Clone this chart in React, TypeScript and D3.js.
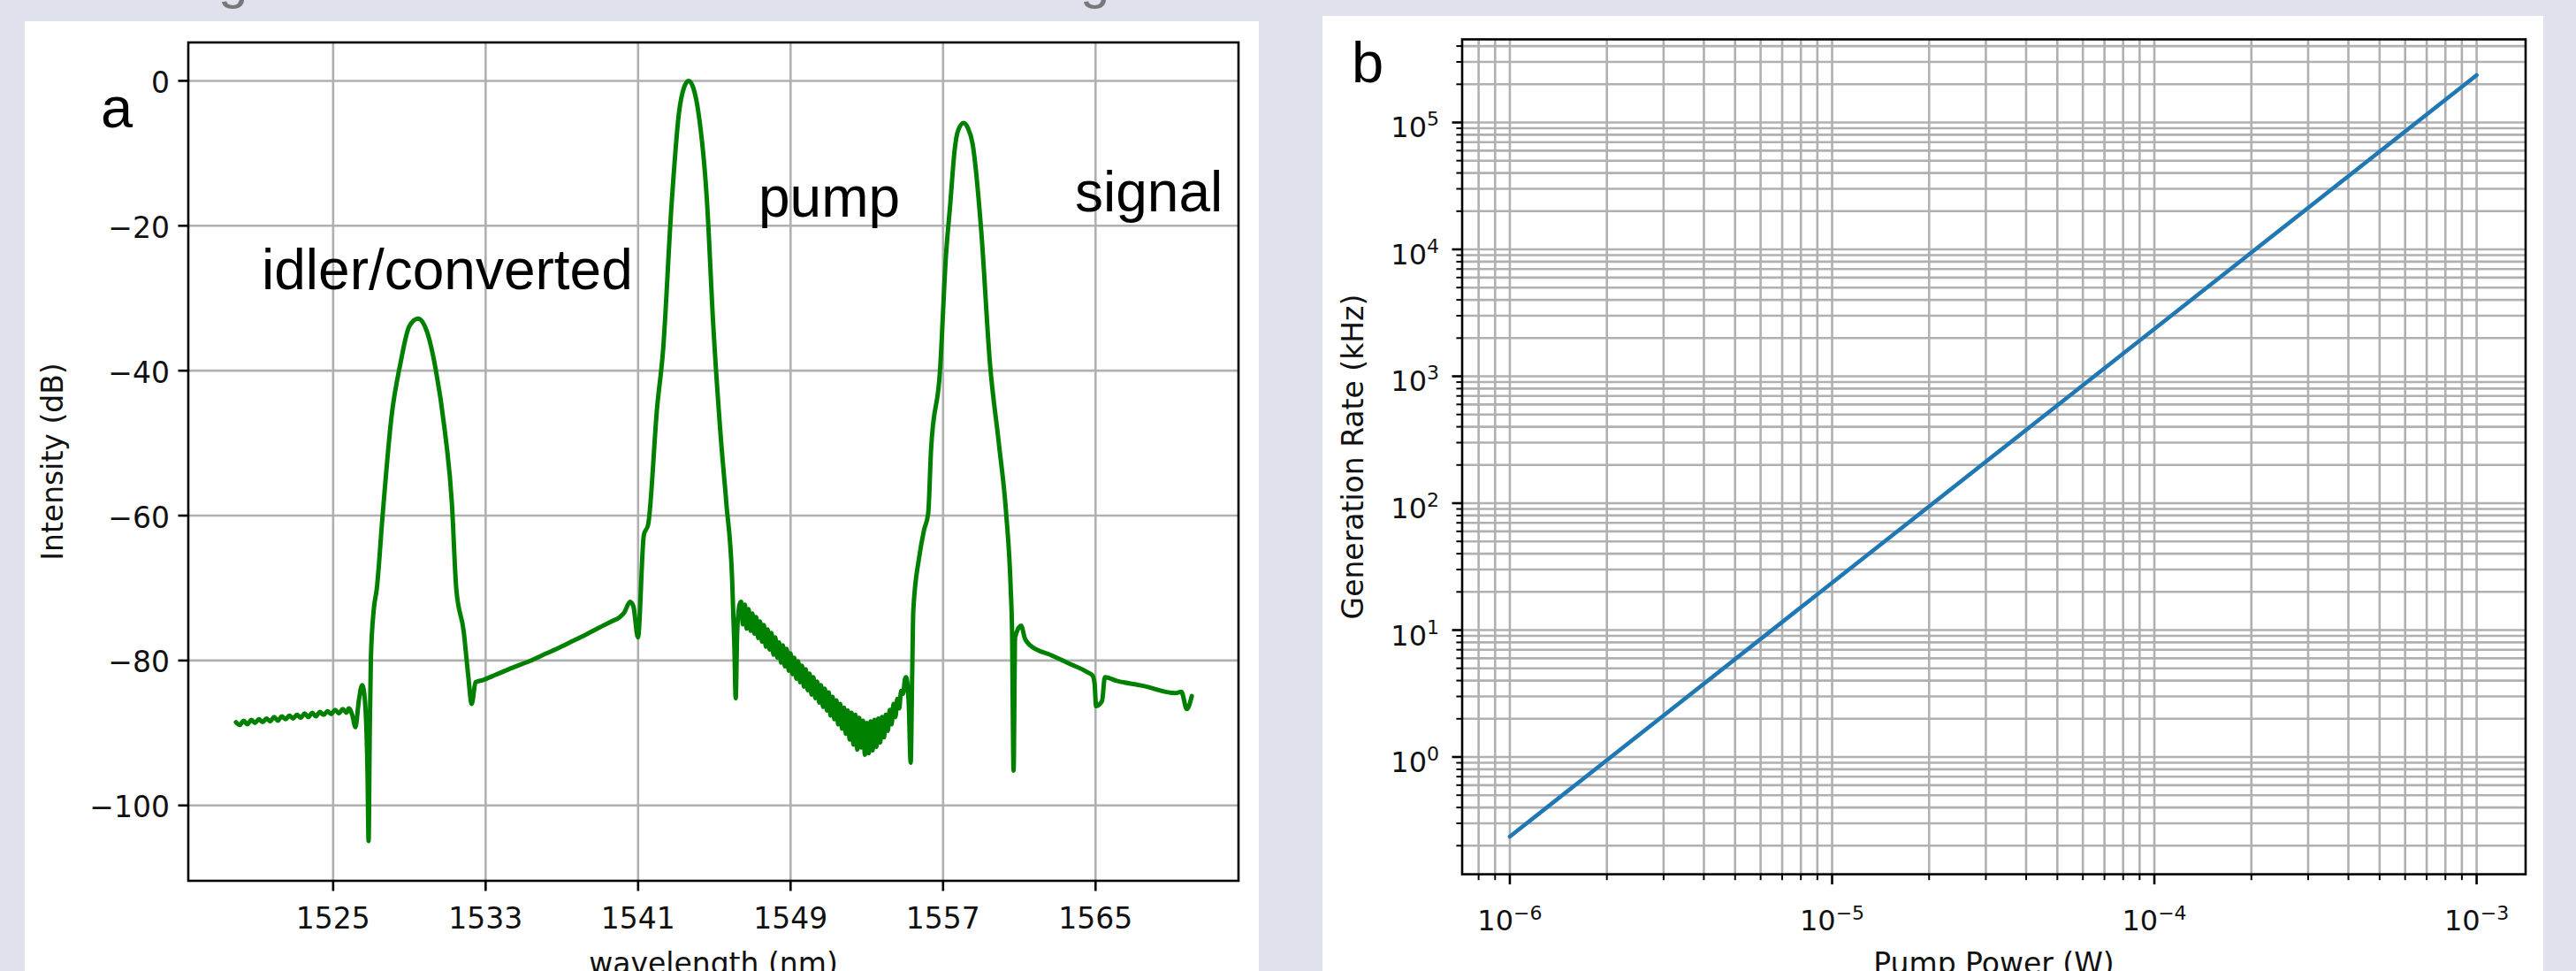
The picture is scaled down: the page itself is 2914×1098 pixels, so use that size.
import React from "react";
import { scaleLinear, scaleLog, line, curveMonotoneX } from "d3";

const bg = "#dfe2ec";
const green = "#008000";
const blue = "#1f77b4";
const gridColor = "#b0b0b0";
const tickFont = "DejaVu Sans";
const labelFont = "Liberation Sans, Arial, sans-serif";

// panel a: optical spectrum (noisy parts included)
const wavelength = [
  1519.9, 1520.1, 1520.3, 1520.5, 1520.7, 1520.9, 1521.1, 1521.3, 1521.5, 1521.7, 1521.9, 1522.1, 1522.3,
  1522.5, 1522.7, 1522.9, 1523.1, 1523.3, 1523.5, 1523.7, 1523.9, 1524.1, 1524.3, 1524.5, 1524.7, 1524.9,
  1525.1, 1525.3, 1525.5, 1525.7, 1525.82,
  1526.0, 1526.17, 1526.35, 1526.52, 1526.65, 1526.8, 1526.86, 1526.92, 1526.98, 1527.13, 1527.29, 1527.6,
  1528.06, 1528.53, 1528.99, 1529.45, 1529.92, 1530.38, 1530.84, 1531.23, 1531.46, 1531.85, 1532.08, 1532.27,
  1532.47, 1532.85, 1533.5, 1534.4, 1535.2, 1535.95, 1536.8, 1537.5, 1538.27, 1539.0, 1539.6, 1540.0, 1540.27,
  1540.58, 1540.75, 1540.99, 1541.3, 1541.53, 1542.0, 1542.3, 1542.76,
  1543.15, 1543.4, 1543.65, 1543.9, 1544.16, 1544.62, 1544.93, 1545.32, 1545.63, 1545.93, 1546.05, 1546.12,
  1546.2, 1546.32,
  1546.4, 1546.5, 1546.6, 1546.7, 1546.8, 1546.9, 1547.0, 1547.1, 1547.2, 1547.3, 1547.4, 1547.5, 1547.6,
  1547.7, 1547.8, 1547.9, 1548.0, 1548.1, 1548.2, 1548.3, 1548.4, 1548.5, 1548.6, 1548.7, 1548.8, 1548.9,
  1549.0, 1549.1, 1549.2, 1549.3, 1549.4, 1549.5, 1549.6, 1549.7, 1549.8, 1549.9, 1550.0, 1550.1, 1550.2,
  1550.3, 1550.4, 1550.5, 1550.6, 1550.7, 1550.8, 1550.9, 1551.0, 1551.1, 1551.2, 1551.3, 1551.4, 1551.5,
  1551.6, 1551.7, 1551.8, 1551.9, 1552.0, 1552.1, 1552.2, 1552.3, 1552.4, 1552.5, 1552.6, 1552.7, 1552.8,
  1552.9, 1553.0, 1553.1, 1553.2, 1553.3, 1553.4, 1553.5, 1553.6, 1553.7, 1553.8, 1553.9, 1554.0, 1554.1,
  1554.2, 1554.3, 1554.4, 1554.5, 1554.6, 1554.7, 1554.8, 1554.9, 1555.0, 1555.06,
  1555.2, 1555.3, 1555.38, 1555.44, 1555.75,
  1556.0, 1556.22, 1556.37, 1556.84, 1557.15, 1557.38, 1557.61, 1557.77, 1558.08, 1558.3, 1558.55, 1559.0,
  1559.46, 1559.93, 1560.31, 1560.55, 1560.62, 1560.7, 1560.78, 1561.09, 1561.3, 1561.56, 1562.71, 1563.6,
  1564.57, 1564.85, 1564.95, 1565.03, 1565.34, 1565.49, 1566.11, 1567.5, 1569.2, 1569.5, 1569.79, 1570.05,
];
const intensity = [
  -88.5, -88.9, -88.3, -88.8, -88.2, -88.6, -88.1, -88.5, -88.0, -88.4, -87.8, -88.3, -87.7,
  -88.1, -87.6, -88.0, -87.5, -87.9, -87.3, -87.8, -87.2, -87.7, -87.1, -87.5, -87.0, -87.4,
  -86.8, -87.3, -86.7, -87.2, -86.6,
  -87.5, -89.2, -85.5, -83.4, -85.0, -95.0, -104.9, -90.0, -79.7, -73.0, -70.1, -59.8,
  -46.4, -39.0, -33.9, -32.8, -34.6, -39.8, -47.9, -58.3, -70.1, -76.0, -81.9, -86.0,
  -83.0, -82.7, -82.0, -81.0, -80.2, -79.3, -78.3, -77.4, -76.4, -75.4, -74.6, -74.1, -73.4,
  -71.9, -72.5, -76.8, -62.7, -61.2, -45.0, -37.5, -16.9,
  -4.3, -1.0, 0.0, -1.0, -4.3, -16.9, -33.1, -48.6, -58.3, -68.6, -78.0, -85.2,
  -76.0, -72.3,
  -71.9, -75.0, -72.3, -75.6, -72.9, -75.9, -73.5, -76.3, -74.0, -76.9, -74.6, -77.4, -75.1,
  -78.1, -75.7, -78.5, -76.2, -79.2, -76.8, -79.6, -77.5, -80.3, -77.9, -80.8, -78.4, -81.4,
  -79.0, -81.9, -79.6, -82.5, -80.1, -83.0, -80.7, -83.6, -81.2, -84.1, -81.8, -84.7, -82.3,
  -85.2, -82.9, -85.8, -83.4, -86.4, -83.9, -86.9, -84.4, -87.6, -85.0, -88.1, -85.5, -88.8,
  -86.0, -89.4, -86.5, -90.1, -86.9, -90.9, -87.2, -91.6, -87.5, -92.3, -87.9, -92.0, -88.3,
  -93.0, -88.6, -92.8, -88.4, -92.4, -88.2, -91.9, -88.0, -91.3, -87.8, -90.6, -87.5, -89.7,
  -86.8, -88.8, -86.0, -87.8, -85.3, -86.6, -84.2, -84.6, -82.6, -82.3,
  -86.0, -94.1, -82.0, -73.0, -65.7,
  -62.0, -59.7, -50.9, -40.0, -24.2, -16.9, -9.5, -7.0, -5.8, -6.5, -8.7, -20.6,
  -39.0, -50.1, -59.7, -70.1, -76.0, -95.2, -76.8, -75.2, -77.0, -77.9, -79.3, -80.4,
  -81.6, -82.1, -83.2, -86.3, -85.6, -82.3, -82.8, -83.5, -84.5, -84.3, -86.7, -84.9,
];
const waveTicks = [1525, 1533, 1541, 1549, 1557, 1565];
const dbTicks = [0, -20, -40, -60, -80, -100];

// panel b: generation rate vs pump power
const pumpPower = [1e-6, 1e-5, 1e-4, 1e-3];
const genRate = [0.236, 23.6, 2360, 236000];

const W = 2914;
const H = 1098;

const pa = { left: 213, right: 1401, top: 48, bottom: 996 };
const pb = { left: 1654, right: 2857, top: 44.5, bottom: 988.6 };

const isMajor = (t: number) => Math.abs(Math.log10(t) - Math.round(Math.log10(t))) < 1e-6;
const fmtMinus = (n: number) => (n < 0 ? "\u2212" + Math.abs(n) : String(n));

function PanelA() {
  const x = scaleLinear().domain([1517.4, 1572.5]).range([pa.left, pa.right]);
  const y = scaleLinear().domain([-110.4, 5.3]).range([pa.bottom, pa.top]);
  const pts = wavelength.map((w, i) => [w, intensity[i]] as [number, number]);
  const path = line<[number, number]>()
    .x(d => x(d[0]))
    .y(d => y(d[1]))
    .curve(curveMonotoneX)(pts);
  const midX = (pa.left + pa.right) / 2;
  const midY = (pa.top + pa.bottom) / 2;

  return (
    <g>
      {waveTicks.map(t => (
        <line key={"gx" + t} x1={x(t)} x2={x(t)} y1={pa.top} y2={pa.bottom} stroke={gridColor} strokeWidth={2.6} />
      ))}
      {dbTicks.map(t => (
        <line key={"gy" + t} x1={pa.left} x2={pa.right} y1={y(t)} y2={y(t)} stroke={gridColor} strokeWidth={2.6} />
      ))}
      <path d={path || ""} fill="none" stroke={green} strokeWidth={5} strokeLinejoin="round" strokeLinecap="round" />
      <rect x={pa.left} y={pa.top} width={pa.right - pa.left} height={pa.bottom - pa.top} fill="none" stroke="#000" strokeWidth={2.6} />

      {waveTicks.map(t => (
        <g key={"tx" + t}>
          <line x1={x(t)} x2={x(t)} y1={pa.bottom} y2={pa.bottom + 11.5} stroke="#000" strokeWidth={2.6} />
          <text x={x(t)} y={pa.bottom + 54} textAnchor="middle" fontFamily={tickFont} fontSize={33} fill="#111">{t}</text>
        </g>
      ))}
      {dbTicks.map(t => (
        <g key={"ty" + t}>
          <line x1={pa.left - 11.5} x2={pa.left} y1={y(t)} y2={y(t)} stroke="#000" strokeWidth={2.6} />
          <text x={pa.left - 21} y={y(t) + 13.5} textAnchor="end" fontFamily={tickFont} fontSize={33} fill="#111">{fmtMinus(t)}</text>
        </g>
      ))}

      <text x={midX} y={1101} textAnchor="middle" fontFamily={tickFont} fontSize={33} fill="#111">wavelength (nm)</text>
      <text transform={`translate(71,${midY}) rotate(-90)`} textAnchor="middle" fontFamily={tickFont} fontSize={33} fill="#111">Intensity (dB)</text>

      <text x={114} y={144} fontFamily={labelFont} fontSize={65} fill="#000">a</text>
      <text x={296} y={327} fontFamily={labelFont} fontSize={64} fill="#000">idler/converted</text>
      <text x={858} y={245} fontFamily={labelFont} fontSize={64} fill="#000">pump</text>
      <text x={1216} y={239} fontFamily={labelFont} fontSize={64} fill="#000">signal</text>
    </g>
  );
}

function PanelB() {
  const x = scaleLog().domain([Math.pow(10, -6.148), Math.pow(10, -2.848)]).range([pb.left, pb.right]);
  const y = scaleLog().domain([Math.pow(10, -0.924), Math.pow(10, 5.655)]).range([pb.bottom, pb.top]);
  const pts = pumpPower.map((p, i) => [p, genRate[i]] as [number, number]);
  const path = line<[number, number]>()
    .x(d => x(d[0]))
    .y(d => y(d[1]))(pts);
  const xt = x.ticks();
  const yt = y.ticks();
  const midX = (pb.left + pb.right) / 2;
  const midY = (pb.top + pb.bottom) / 2;

  return (
    <g>
      {xt.map((t, i) => (
        <line key={"gx" + i} x1={x(t)} x2={x(t)} y1={pb.top} y2={pb.bottom} stroke={gridColor} strokeWidth={2.6} />
      ))}
      {yt.map((t, i) => (
        <line key={"gy" + i} x1={pb.left} x2={pb.right} y1={y(t)} y2={y(t)} stroke={gridColor} strokeWidth={2.6} />
      ))}
      <path d={path || ""} fill="none" stroke={blue} strokeWidth={4.6} strokeLinecap="round" />
      <rect x={pb.left} y={pb.top} width={pb.right - pb.left} height={pb.bottom - pb.top} fill="none" stroke="#000" strokeWidth={2.6} />

      {xt.map((t, i) => {
        const major = isMajor(t);
        return (
          <g key={"tx" + i}>
            <line x1={x(t)} x2={x(t)} y1={pb.bottom} y2={pb.bottom + (major ? 11.5 : 6.6)} stroke="#000" strokeWidth={major ? 2.6 : 2} />
            {major && (
              <text x={x(t)} y={1052} textAnchor="middle" fontFamily={tickFont} fontSize={32} fill="#111">
                10<tspan dy={-12} fontSize={22}>{fmtMinus(Math.round(Math.log10(t)))}</tspan>
              </text>
            )}
          </g>
        );
      })}
      {yt.map((t, i) => {
        const major = isMajor(t);
        return (
          <g key={"ty" + i}>
            <line x1={pb.left - (major ? 11.5 : 6.6)} x2={pb.left} y1={y(t)} y2={y(t)} stroke="#000" strokeWidth={major ? 2.6 : 2} />
            {major && (
              <text x={pb.left - 26} y={y(t) + 17} textAnchor="end" fontFamily={tickFont} fontSize={32} fill="#111">
                10<tspan dy={-13} fontSize={22}>{fmtMinus(Math.round(Math.log10(t)))}</tspan>
              </text>
            )}
          </g>
        );
      })}

      <text x={midX} y={1101} textAnchor="middle" fontFamily={tickFont} fontSize={33} fill="#111">Pump Power (W)</text>
      <text transform={`translate(1542,${midY}) rotate(-90)`} textAnchor="middle" fontFamily={tickFont} fontSize={33} fill="#111">Generation Rate (kHz)</text>

      <text x={1529} y={93} fontFamily={labelFont} fontSize={65} fill="#000">b</text>
    </g>
  );
}

export default function App() {
  return (
    <svg width={W} height={H} style={{ position: "absolute", left: 0, top: 0, display: "block" }}>
      <rect width={W} height={H} fill={bg} />
      <text x={247} y={-2} fontFamily={labelFont} fontSize={60} fill="#777">g</text>
      <text x={1222} y={-2} fontFamily={labelFont} fontSize={60} fill="#777">g</text>
      <rect x={28} y={24} width={1396} height={H} fill="#fff" />
      <rect x={1496} y={18} width={1381} height={H} fill="#fff" />
      <PanelA />
      <PanelB />
    </svg>
  );
}
